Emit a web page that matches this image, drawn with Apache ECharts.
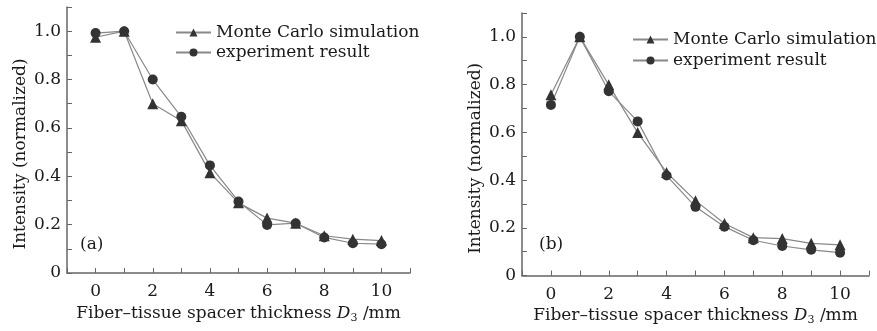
<!DOCTYPE html>
<html>
<head>
<meta charset="utf-8">
<script src="https://cdn.jsdelivr.net/npm/echarts@6/dist/echarts.min.js"></script>
<style>html,body{margin:0;padding:0;background:#fff}#c{width:877px;height:331px}</style>
</head>
<body>
<div id="c"></div>
<script>
// ---- data ----
var xValues = [0, 1, 2, 3, 4, 5, 6, 7, 8, 9, 10];
var xTickLabels = ['0', '2', '4', '6', '8', '10'];
var yTickLabels = ['0', '0.2', '0.4', '0.6', '0.8', '1.0'];
var seriesNames = ['Monte Carlo simulation', 'experiment result'];
var panelLabels = ['(a)', '(b)'];
var mcA  = [0.975, 1.00, 0.70, 0.63, 0.415, 0.29, 0.227, 0.206, 0.154, 0.140, 0.134];
var expA = [0.992, 1.00, 0.80, 0.646, 0.445, 0.296, 0.199, 0.206, 0.147, 0.123, 0.119];
var mcB  = [0.758, 1.00, 0.799, 0.599, 0.432, 0.314, 0.218, 0.159, 0.155, 0.135, 0.129];
var expB = [0.715, 1.00, 0.772, 0.646, 0.419, 0.288, 0.205, 0.148, 0.124, 0.108, 0.096];

function pairs(ys) { return xValues.map(function (x, i) { return [x, ys[i]]; }); }

var FONT = 'DejaVu Serif';
var TXT = '#1a1a1a';
var AX = '#666';

function xAxis(gi, nameGap, margin) {
  return {
    type: 'value', gridIndex: gi, min: -1, max: 11, interval: 1,
    axisLine: { show: true, onZero: false, lineStyle: { color: AX, width: 1.5 } },
    axisTick: { show: true, inside: true, length: 5, lineStyle: { color: AX } },
    splitLine: { show: false },
    axisLabel: {
      margin: margin, fontFamily: FONT, fontSize: 17, color: TXT,
      formatter: function (v) { var s = String(v); return xTickLabels.indexOf(s) >= 0 ? s : ''; }
    },
    name: '{n|Fiber–tissue spacer thickness }{i|D}{s|3}{n| /mm}',
    nameLocation: 'middle', nameGap: nameGap,
    nameTextStyle: {
      rich: {
        n: { fontFamily: FONT, fontSize: 17, color: TXT },
        i: { fontFamily: FONT, fontSize: 17, fontStyle: 'italic', color: TXT },
        s: { fontFamily: FONT, fontSize: 11, color: TXT, padding: [9, 0, 0, 0] }
      }
    }
  };
}
function yAxis(gi) {
  return {
    type: 'value', gridIndex: gi, min: 0, max: 1.1, interval: 0.1,
    axisLine: { show: true, onZero: false, lineStyle: { color: AX, width: 1.5 } },
    axisTick: { show: true, inside: true, length: 5, lineStyle: { color: AX } },
    splitLine: { show: false },
    axisLabel: {
      margin: 6, fontFamily: FONT, fontSize: 17, color: TXT,
      formatter: function (v) {
        var s = (Math.abs(v) < 1e-9) ? '0' : (Math.round(v * 10) / 10).toFixed(1);
        return yTickLabels.indexOf(s) >= 0 ? s : '';
      }
    },
    name: 'Intensity (normalized)', nameLocation: 'middle', nameGap: 38,
    nameTextStyle: { fontFamily: FONT, fontSize: 17, color: TXT, padding: [0, 28, 0, 0] }
  };
}
function line(name, data, gi, symbol, size) {
  return {
    type: 'line', name: name, data: pairs(data), xAxisIndex: gi, yAxisIndex: gi,
    symbol: symbol, symbolSize: size, showSymbol: true,
    lineStyle: { color: '#888', width: 1.2 },
    itemStyle: { color: '#333' },
    emphasis: { disabled: true }, animation: false
  };
}

var chart = echarts.init(document.getElementById('c'), null, { renderer: 'canvas' });
chart.setOption({
  animation: false,
  backgroundColor: '#fff',
  grid: [
    { left: 67, top: 7, width: 343, height: 266 },
    { left: 522, top: 13, width: 347, height: 265 }
  ],
  xAxis: [xAxis(0, 31, 10), xAxis(1, 30, 10)],
  yAxis: [yAxis(0), yAxis(1)],
  legend: [
    { seriesIndex: [0, 1], data: seriesNames, orient: 'vertical', left: 175, top: 24, padding: 0,
      itemWidth: 35, itemHeight: 10, itemGap: 3,
      textStyle: { fontFamily: FONT, fontSize: 17, color: TXT, lineHeight: 17 } },
    { data: seriesNames, orient: 'vertical', left: 632, top: 31, padding: 0,
      itemWidth: 35, itemHeight: 10, itemGap: 4,
      textStyle: { fontFamily: FONT, fontSize: 17, color: TXT, lineHeight: 17 } }
  ],
  graphic: [
    { type: 'text', left: 80, top: 236, style: { text: panelLabels[0], font: '17px "DejaVu Serif"', fill: TXT } },
    { type: 'text', left: 539, top: 236, style: { text: panelLabels[1], font: '17px "DejaVu Serif"', fill: TXT } }
  ],
  series: [
    line(seriesNames[0], mcA, 0, 'triangle', 11),
    line(seriesNames[1], expA, 0, 'circle', 10),
    line(seriesNames[0], mcB, 1, 'triangle', 11),
    line(seriesNames[1], expB, 1, 'circle', 10)
  ]
});
</script>
</body>
</html>
